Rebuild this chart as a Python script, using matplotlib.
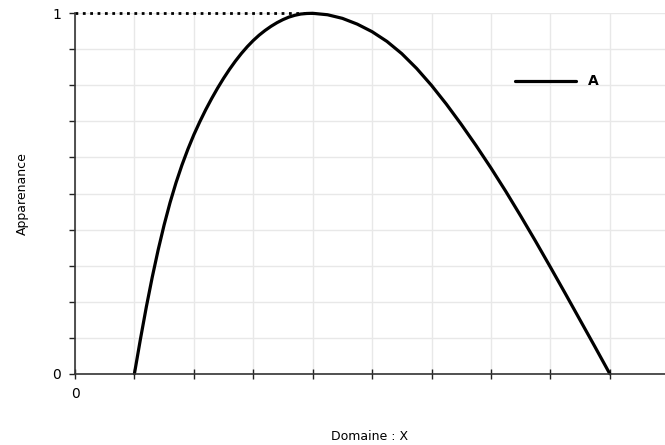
import matplotlib
matplotlib.use("Agg")
import matplotlib.pyplot as plt
import numpy as np

# membership curve (rising part 1 -> 4, falling part 4 -> 9)
x_rise = [1.0, 1.1, 1.2, 1.3, 1.4, 1.5, 1.6, 1.7, 1.8, 1.9, 2.0, 2.1, 2.2, 2.3, 2.4, 2.5,
          2.6, 2.7, 2.8, 2.9, 3.0, 3.1, 3.2, 3.3, 3.4, 3.5, 3.6, 3.7, 3.8, 3.9, 4.0]
y_rise = [0.0, 0.095, 0.185, 0.268, 0.344, 0.413, 0.475, 0.53, 0.579, 0.623, 0.663, 0.699,
          0.7325, 0.7635, 0.7925, 0.8195, 0.8445, 0.8675, 0.8885, 0.9075, 0.9245, 0.9395,
          0.9525, 0.964, 0.974, 0.9825, 0.9895, 0.9945, 0.998, 0.9995, 1.0]
x_fall = [4.25, 4.5, 4.75, 5.0, 5.25, 5.5, 5.75, 6.0, 6.25, 6.5, 6.75, 7.0, 7.25, 7.5,
          7.75, 8.0, 8.25, 8.5, 8.75, 9.0]
y_fall = [0.996, 0.986, 0.97, 0.949, 0.922, 0.888, 0.847, 0.8, 0.748, 0.692, 0.633, 0.571,
          0.506, 0.438, 0.368, 0.296, 0.223, 0.149, 0.075, 0.0]
peak_x = 4.0
series_name = "A"

fig = plt.figure(figsize=(6.65, 4.45), dpi=100)
ax = fig.add_axes([0.1128, 0.1602, 0.8872, 0.8099])

ax.set_xlim(0, 9.93)
ax.set_ylim(0, 1)

ax.set_xticks(np.arange(0, 10, 1))
ax.set_yticks(np.arange(0, 1.01, 0.1))
ax.grid(True, color="#e8e8e8", linewidth=1)
ax.set_axisbelow(True)

ax.set_xticklabels(["0"] + [""] * 9)
ax.set_yticklabels(["0"] + [""] * 9 + ["1"])
ax.tick_params(axis="x", direction="inout", length=7, width=1, color="#222222", labelsize=10, pad=6)
ax.tick_params(axis="y", direction="out", length=4, width=1, color="#222222", labelsize=10, pad=6)

for s in ["top", "right"]:
    ax.spines[s].set_visible(False)
for s in ["left", "bottom"]:
    ax.spines[s].set_color("#333333")
    ax.spines[s].set_linewidth(1.2)

ax.plot([0, peak_x], [1, 1], color="black", linestyle=":", linewidth=2, clip_on=False)
ax.plot(x_rise + x_fall, y_rise + y_fall, color="black", linewidth=2.3, label=series_name,
        clip_on=False, solid_capstyle="round", solid_joinstyle="round")

leg = ax.legend(loc="upper left", bbox_to_anchor=(0.725, 0.865), frameon=False, handlelength=4.4,
                handletextpad=0.85, prop={"weight": "bold", "size": 10})

ax.set_xlabel("Domaine : X", fontsize=9, labelpad=21)
ax.set_ylabel("Apparenance", fontsize=9, labelpad=17)

fig.savefig("out.png", dpi=100)
